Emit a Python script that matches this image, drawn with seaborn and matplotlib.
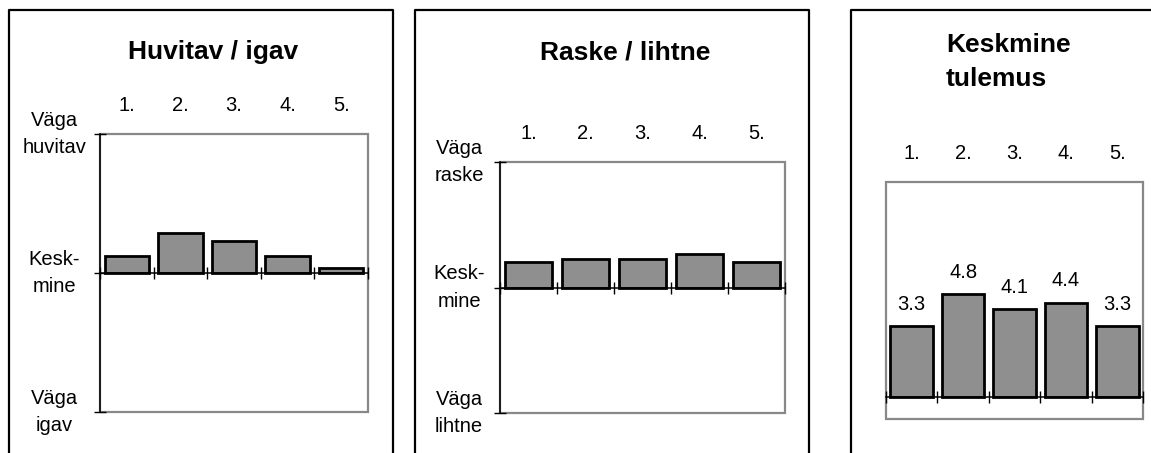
import matplotlib

matplotlib.use("Agg")

import matplotlib.pyplot as plt
import seaborn as sns
from matplotlib.lines import Line2D
from matplotlib.patches import Rectangle

# data
categories = ["1.", "2.", "3.", "4.", "5."]
interest_values = [0.25, 0.57, 0.455, 0.25, 0.067]
difficulty_values = [0.40, 0.46, 0.46, 0.53, 0.40]
average_scores = [3.3, 4.8, 4.1, 4.4, 3.3]

scale_ticks = [-2, 0, 2]
interest_labels = ["Väga\nigav", "Kesk-\nmine", "Väga\nhuvitav"]
difficulty_labels = ["Väga\nlihtne", "Kesk-\nmine", "Väga\nraske"]

titles = ["Huvitav / igav", "Raske / lihtne", "Keskmine\ntulemus"]

W, H = 1151, 453
BAR_COLOR = "#8f8f8f"
BORDER_GRAY = "#888888"
TEXT_SIZE = 14.5

plt.rcParams["font.family"] = ["Liberation Sans", "DejaVu Sans"]

fig = plt.figure(figsize=(W / 100, H / 100), dpi=100)


def px_axes(left, top, right, bottom):
    return fig.add_axes([left / W, 1 - bottom / H, (right - left) / W, (bottom - top) / H])


def frame(xs, ys):
    fig.add_artist(
        Line2D([x / W for x in xs], [1 - y / H for y in ys],
               transform=fig.transFigure, color="black", lw=1.6)
    )


def draw_panel(ax, values, ylim, yticks=None, ylabels=None, ylabel_pad=0):
    sns.barplot(x=categories, y=values, ax=ax, color=BAR_COLOR, saturation=1,
                edgecolor="black", linewidth=2, width=0.83, zorder=3)
    ax.set_xlim(-0.5, 4.5)
    ax.set_ylim(*ylim)
    ax.set_xlabel("")
    ax.set_ylabel("")

    for side in ["top", "right", "left"]:
        ax.spines[side].set_visible(False)
    ax.spines["bottom"].set_position(("data", 0))
    ax.spines["bottom"].set_color("black")
    ax.spines["bottom"].set_linewidth(1.1)
    ax.spines["bottom"].set_zorder(4)

    ax.add_patch(Rectangle((0, 0), 1, 1, transform=ax.transAxes, fill=False,
                           edgecolor=BORDER_GRAY, lw=1.6, clip_on=False, zorder=1))

    # category labels above the plot, cross ticks at boundaries on the zero line
    ax.set_xticks(range(len(categories)))
    ax.set_xticklabels(categories)
    ax.set_xticks([i - 0.5 for i in range(len(categories) + 1)], minor=True)
    ax.tick_params(axis="x", which="major", bottom=False, top=False,
                   labelbottom=False, labeltop=True, labelsize=TEXT_SIZE, pad=10.5)
    ax.tick_params(axis="x", which="minor", bottom=True, direction="inout",
                   length=9, width=1, color="black")

    if yticks is None:
        ax.set_yticks([])
        return
    ax.spines["left"].set_visible(True)
    ax.spines["left"].set_color("black")
    ax.spines["left"].set_linewidth(1.1)
    ax.spines["left"].set_zorder(4)
    ax.set_yticks(yticks)
    ax.set_yticklabels(ylabels, ha="center", va="center", fontsize=TEXT_SIZE,
                       linespacing=1.55)
    ax.tick_params(axis="y", left=True, direction="inout", length=9, width=1,
                   color="black", pad=ylabel_pad)


frame([9, 9, 393, 393], [H, 10, 10, H])
frame([415, 415, 809, 809], [H, 10, 10, H])
frame([851, 851, W], [H, 10, 10])

ax1 = px_axes(100, 134, 368, 412)
draw_panel(ax1, interest_values, (-2, 2), scale_ticks, interest_labels, 28.5)

ax2 = px_axes(500, 162, 785, 413)
draw_panel(ax2, difficulty_values, (-2, 2), scale_ticks, difficulty_labels, 25)

ax3 = px_axes(886, 182, 1143, 419)
draw_panel(ax3, average_scores, (-1, 10))
ax3.bar_label(ax3.containers[0], fmt="%.1f", padding=9, fontsize=TEXT_SIZE)

fig.text(213 / W, 1 - 52 / H, titles[0], ha="center", va="center",
         fontsize=19, fontweight="bold")
fig.text(625 / W, 1 - 52 / H, titles[1], ha="center", va="center",
         fontsize=19, fontweight="bold")
fig.text(946 / W, 1 - 62 / H, titles[2], ha="left", va="center",
         fontsize=19, fontweight="bold", linespacing=1.5)

fig.savefig("out.png", dpi=100)
plt.close(fig)
